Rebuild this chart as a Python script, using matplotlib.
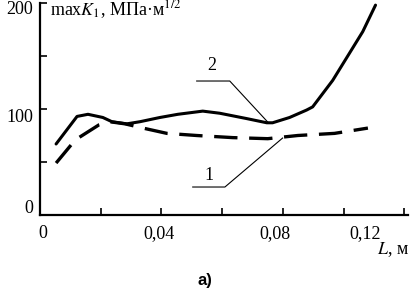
import numpy as np
import matplotlib
matplotlib.use("Agg")
import matplotlib.pyplot as plt

plt.rcParams['font.family'] = ['Liberation Serif', 'DejaVu Serif']
plt.rcParams['mathtext.fontset'] = 'stix'

# кривая 1 (штриховая)
L1 = [0.0053, 0.0105, 0.0128, 0.0194, 0.023, 0.028, 0.0339, 0.0418,
      0.0516, 0.0635, 0.075, 0.0849, 0.097, 0.108]
K1 = [49, 67, 73, 85, 88, 86, 82, 77, 75, 73, 72, 75, 77, 82]

# кривая 2 (сплошная)
L2 = [0.0053, 0.0122, 0.0158, 0.0207, 0.0237, 0.0286, 0.0329, 0.0395,
      0.0454, 0.0536, 0.0592, 0.068, 0.0747, 0.0766, 0.0822, 0.0878,
      0.0898, 0.0964, 0.102, 0.1063, 0.1105]
K2 = [67, 93, 95, 92, 88, 86, 88, 92, 95, 98, 96, 91, 87, 87, 92, 99,
      102, 127, 153, 173, 198]

xticks = [0, 0.02, 0.04, 0.06, 0.08, 0.10, 0.12]
yticks = [0, 50, 100, 150, 200]
# подписи делений (значение, текст) - в оригинале сдвинуты относительно рисок
xlabels = [(0, '0'), (0.04, '0,04'), (0.08, '0,08'), (0.12, '0,12')]
ylabels = [(0, '0'), (100, '100'), (200, '200')]
xlab_shift = [2, -2, -6, -28]
ylab_shift = [5, -6, -5]

fig = plt.figure(figsize=(4.11, 2.91), dpi=100)
ax = fig.add_axes([40/411, 76/291, 368/411, 212/291])
ax.set_xlim(0, 0.1212)
ax.set_ylim(0, 200)

ax.plot(L2, K2, color='black', lw=2.2, solid_capstyle='round')
ax.plot(L1, K1, color='black', lw=2.4, dashes=(7, 3.5))

# выноски
ax.plot([0.0516, 0.0625, 0.075], [126.4, 126.4, 87.7], color='black', lw=0.8)
ax.text(0.0566, 141.5, '2', ha='center', va='center', fontsize=13)
ax.plot([0.0503, 0.0609, 0.0799], [26.4, 26.4, 72.6], color='black', lw=0.8)
ax.text(0.0556, 37.7, '1', ha='center', va='center', fontsize=13)

for s in ['top', 'right']:
    ax.spines[s].set_visible(False)
for s in ['left', 'bottom']:
    ax.spines[s].set_linewidth(1.6)

ax.set_xticks(xticks)
ax.set_yticks(yticks)
ax.set_xticklabels([])
ax.set_yticklabels([])
ax.tick_params(direction='in', length=5, width=1.2)

for (v, t), dx in zip(xlabels, xlab_shift):
    ax.annotate(t, (v, 0), xycoords=('data', 'axes fraction'),
                xytext=(dx, -7), textcoords='offset points',
                ha='center', va='top', fontsize=13)
for (v, t), dy in zip(ylabels, ylab_shift):
    ax.annotate(t, (0, v), xycoords=('axes fraction', 'data'),
                xytext=(-5, dy), textcoords='offset points',
                ha='right', va='center', fontsize=13)

ax.annotate(r'max$K_1$, МПа·м$^{1/2}$', (0, 200), xycoords=('axes fraction', 'data'),
            xytext=(7, -5), textcoords='offset points',
            ha='left', va='center', fontsize=13)
ax.annotate(r'$L$, м', (1, 0), xycoords='axes fraction',
            xytext=(1, -18), textcoords='offset points',
            ha='right', va='top', fontsize=13)

fig.text(205/411, 1 - 281/291, 'а)', ha='center', va='center', fontsize=12,
         family='Liberation Sans', weight='bold')

fig.savefig('out.png', dpi=100)
